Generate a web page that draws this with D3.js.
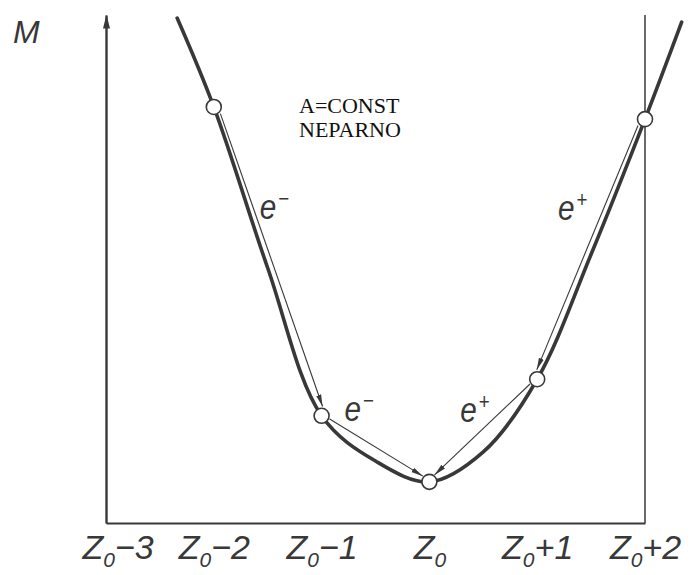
<!DOCTYPE html>
<html>
<head>
<meta charset="utf-8">
<script src="https://cdn.jsdelivr.net/npm/d3@7"></script>
<style>
  html, body { margin: 0; padding: 0; background: #fff; }
  svg { display: block; }
</style>
</head>
<body>
<div id="chart"></div>
<script>
// Mass parabola of an odd-A isobar chain: beta decays run down to Z0.
const tickOffsets = [-3, -2, -1, 0, 1, 2];
const tickSuffix = ['−3', '−2', '−1', '', '+1', '+2'];

// Nuclei on the parabola (Z - Z0, mass in arbitrary units).
const nucleusZ = [-2, -1, 0, 1, 2];
const nucleusM = [81.9, 21.1, 8.1, 28.3, 79.5];

// Hand-drawn mass curve.
const curveZ = [-2.34, -2, -1.5, -1, -0.5, 0, 0.5, 1, 1.5, 2, 2.34];
const curveM = [99.4, 81.9, 50.2, 21.1, 12.2, 8.1, 14, 28.3, 52.9, 79.5, 98.6];

// Decay arrows: from, to, emitted particle.
const decayFrom = [-2, -1, 1, 2];
const decayTo = [-1, 0, 0, 1];
const decayBase = ['e', 'e', 'e', 'e'];
const decaySign = ['−', '−', '+', '+'];

(function(){
  const W = 691, H = 575;
  const margin = {top: 15, right: 46, bottom: 52, left: 106};
  const ink = '#383838';
  const sans = '"Liberation Sans", Arial, sans-serif';

  const svg = d3.select('#chart').append('svg')
    .attr('width', W).attr('height', H);

  const x = d3.scaleLinear().domain([-3, 2]).range([margin.left, W - margin.right]);
  const y = d3.scaleLinear().domain([0, 100]).range([H - margin.bottom, margin.top]);

  // Arrowheads for the axis and the decay chords.
  const defs = svg.append('defs');
  defs.append('marker')
    .attr('id', 'axis-arrow')
    .attr('viewBox', '0 -4 14 8')
    .attr('refX', 13).attr('refY', 0)
    .attr('markerUnits', 'userSpaceOnUse')
    .attr('markerWidth', 14).attr('markerHeight', 8)
    .attr('orient', 'auto')
    .append('path').attr('d', 'M0,-3.5L14,0L0,3.5Z').attr('fill', ink);
  defs.append('marker')
    .attr('id', 'beta-arrow')
    .attr('viewBox', '0 -3 12 6')
    .attr('refX', 12).attr('refY', 0)
    .attr('markerUnits', 'userSpaceOnUse')
    .attr('markerWidth', 12).attr('markerHeight', 6)
    .attr('orient', 'auto')
    .append('path').attr('d', 'M0,-2.6L12,0L0,2.6Z').attr('fill', ink);

  // Vertical M axis with arrow.
  const yAxis = svg.append('g')
    .attr('transform', `translate(${margin.left},0)`)
    .call(d3.axisLeft(y).tickValues([]).tickSizeOuter(0));
  yAxis.select('.domain')
    .attr('stroke', ink).attr('stroke-width', 2.4)
    .attr('marker-end', 'url(#axis-arrow)');

  // Bottom axis with Z0 labels.
  const xAxis = svg.append('g')
    .attr('transform', `translate(0,${y(0)})`)
    .call(d3.axisBottom(x).tickValues(tickOffsets).tickSize(0).tickSizeOuter(0).tickFormat(() => ''));
  xAxis.select('.domain').attr('stroke', ink).attr('stroke-width', 2.2);
  xAxis.selectAll('.tick text').each(function(d, i){
    const t = d3.select(this).text(null)
      .attr('y', 36).attr('dy', null)
      .attr('x', i === 0 ? -24 : 0)
      .attr('text-anchor', i === 0 ? 'start' : 'middle')
      .attr('font-family', sans).attr('font-size', 34)
      .attr('font-style', 'italic').attr('fill', ink);
    t.append('tspan').text('Z');
    t.append('tspan').attr('font-size', 21).attr('dy', 8).text('0');
    if(tickSuffix[i]) t.append('tspan').attr('dy', -8).text(tickSuffix[i]);
  });

  // Right frame line at Z0+2.
  svg.append('line')
    .attr('x1', x(2)).attr('x2', x(2))
    .attr('y1', y(0)).attr('y2', y(100))
    .attr('stroke', ink).attr('stroke-width', 1.5);

  // Thick mass curve.
  const curvePts = curveZ.map((z, i) => [z, curveM[i]]);
  svg.append('path')
    .datum(curvePts)
    .attr('fill', 'none')
    .attr('stroke', ink)
    .attr('stroke-width', 3.6)
    .attr('stroke-linecap', 'round')
    .attr('d', d3.line().x(d => x(d[0])).y(d => y(d[1])).curve(d3.curveCatmullRom.alpha(0.5)));

  // Thin decay chords, shifted a little to the inside of the parabola.
  const r = 7.5;
  const mOf = z => nucleusM[nucleusZ.indexOf(z)];
  const labelOffsets = [[46, 112], [23, 5], [-77, 43], [-87, 101]];
  decayFrom.forEach((zf, i) => {
    const zt = decayTo[i];
    const x0 = x(zf), y0 = y(mOf(zf)), x1 = x(zt), y1 = y(mOf(zt));
    const dx = x1 - x0, dy = y1 - y0, len = Math.hypot(dx, dy);
    const ux = dx / len, uy = dy / len;
    let nx = uy, ny = -ux;
    if(ny > 0){ nx = -nx; ny = -ny; }
    const shift = Math.abs(dy) > 150 ? 4 : 1.5;
    svg.append('line')
      .attr('x1', x0 + ux * (r + 1) + nx * shift)
      .attr('y1', y0 + uy * (r + 1) + ny * shift)
      .attr('x2', x1 - ux * (r + 1) + nx * shift)
      .attr('y2', y1 - uy * (r + 1) + ny * shift)
      .attr('stroke', ink).attr('stroke-width', 1.1)
      .attr('marker-end', 'url(#beta-arrow)');

    const lt = svg.append('text')
      .attr('transform', `translate(${x0 + labelOffsets[i][0]},${y0 + labelOffsets[i][1]}) scale(0.85,1)`)
      .attr('font-family', sans).attr('font-size', 35)
      .attr('font-style', 'italic').attr('fill', ink);
    lt.append('tspan').text(decayBase[i]);
    lt.append('tspan').attr('font-size', 22).attr('dy', -13).attr('dx', 2).text(decaySign[i]);
  });

  // Nuclei as open circles.
  svg.append('g').selectAll('circle')
    .data(nucleusZ)
    .join('circle')
    .attr('cx', d => x(d))
    .attr('cy', (d, i) => y(nucleusM[i]))
    .attr('r', r)
    .attr('fill', '#fff')
    .attr('stroke', ink)
    .attr('stroke-width', 1.6);

  // Axis name and the chain caption.
  svg.append('text')
    .attr('x', 13).attr('y', 43)
    .attr('font-family', sans).attr('font-size', 32)
    .attr('font-style', 'italic').attr('fill', ink)
    .text('M');

  const caption = svg.append('text')
    .attr('font-family', '"Liberation Serif", "Times New Roman", serif')
    .attr('font-size', 22).attr('fill', '#111');
  caption.append('tspan').attr('x', 299).attr('y', 113).text('A=CONST');
  caption.append('tspan').attr('x', 299).attr('y', 137).text('NEPARNO');
})();
</script>
</body>
</html>
